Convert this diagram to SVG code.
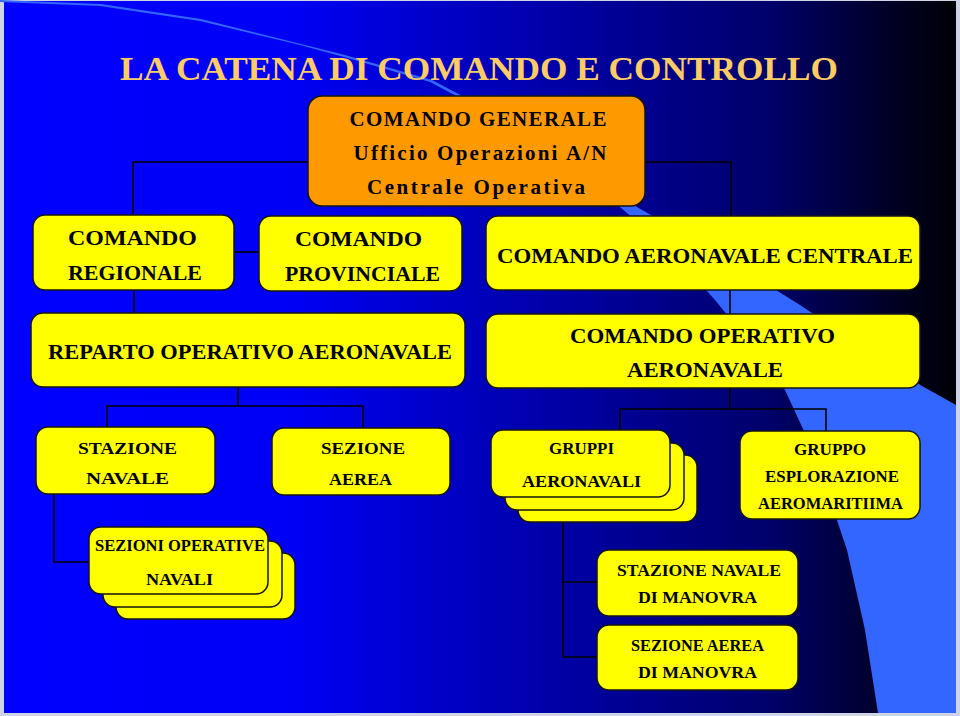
<svg xmlns="http://www.w3.org/2000/svg" width="960" height="716" viewBox="0 0 960 716">
<defs>
<linearGradient id="bg" x1="0" y1="0" x2="1" y2="0">
<stop offset="0" stop-color="#0000ff"/>
<stop offset="0.3" stop-color="#0000f6"/>
<stop offset="0.5" stop-color="#0000bc"/>
<stop offset="0.8" stop-color="#00006c"/>
<stop offset="0.93" stop-color="#000026"/>
<stop offset="1" stop-color="#000006"/>
</linearGradient>
<style>
.box{fill:#ffff00;stroke:#141414;stroke-width:1.5}
.org{fill:#ff9900;stroke:#141414;stroke-width:1.5}
.t{font-family:"Liberation Serif","Times New Roman",serif;font-weight:bold;fill:#000;text-anchor:middle}
.t22{font-size:22px}
.t21{font-size:21px}
.t17{font-size:17px}
.title{font-family:"Liberation Serif","Times New Roman",serif;font-weight:bold;font-size:34px;fill:#ffcc66;text-anchor:middle}
.con{fill:none;stroke:#000;stroke-width:1.6}
</style>
</defs>
<rect x="0" y="0" width="960" height="716" fill="#cfd3e6"/>
<rect x="4" y="1" width="952" height="712" fill="url(#bg)"/>
<polygon fill="#3366ff" points="0,2 100,6 200,21 300,45 344,57 430,82 530,135 580,168 620,207 670,250 715,300 750,343 785,390 815,455 847,550 865,630 878,713 956,713 956,405 922,386 860,345 800,305 720,255 637,207 590,172 560,150 532,133 432,80 345,55 201,19 101,4 0,0"/>
<text class="title" x="479" y="80" textLength="718" lengthAdjust="spacingAndGlyphs">LA CATENA DI COMANDO E CONTROLLO</text>
<g id="connectors">
<path class="con" d="M308 162 H133 V215"/>
<path class="con" d="M645 162 H731 V216"/>
<path class="con" d="M234 252 H259"/>
<path class="con" d="M134 290 V313"/>
<path class="con" d="M730 290 V314"/>
<path class="con" d="M238 387 V406"/>
<path class="con" d="M107 428 V406 H363 V428"/>
<path class="con" d="M730 388 V409"/>
<path class="con" d="M620 430 V409 H826 V431"/>
<path class="con" d="M54 494 V562 H89"/>
<path class="con" d="M563 522 V657 H597"/>
<path class="con" d="M563 582 H597"/>
</g>
<g id="comando-generale">
<rect class="org" x="308" y="96" width="337" height="110" rx="14"/>
<text class="t t21" x="478" y="126" textLength="257" lengthAdjust="spacing">COMANDO GENERALE</text>
<text class="t t21" x="480" y="160" textLength="253" lengthAdjust="spacing">Ufficio Operazioni A/N</text>
<text class="t t21" x="476" y="194" textLength="218" lengthAdjust="spacing">Centrale Operativa</text>
</g>
<g id="comando-regionale">
<rect class="box" x="33" y="215" width="201" height="75" rx="12"/>
<text class="t t22" x="132.5" y="245" textLength="129" lengthAdjust="spacingAndGlyphs">COMANDO</text>
<text class="t t22" x="135" y="280" textLength="134" lengthAdjust="spacingAndGlyphs">REGIONALE</text>
</g>
<g id="comando-provinciale">
<rect class="box" x="259" y="216" width="203" height="75" rx="12"/>
<text class="t t22" x="358.5" y="246" textLength="127" lengthAdjust="spacingAndGlyphs">COMANDO</text>
<text class="t t22" x="362.5" y="281" textLength="155" lengthAdjust="spacingAndGlyphs">PROVINCIALE</text>
</g>
<g id="comando-aeronavale-centrale">
<rect class="box" x="486" y="216" width="434" height="74" rx="12"/>
<text class="t t22" x="705" y="263" textLength="416" lengthAdjust="spacingAndGlyphs">COMANDO AERONAVALE CENTRALE</text>
</g>
<g id="reparto-operativo">
<rect class="box" x="31" y="313" width="434" height="74" rx="12"/>
<text class="t t22" x="250" y="359" textLength="404" lengthAdjust="spacingAndGlyphs">REPARTO OPERATIVO AERONAVALE</text>
</g>
<g id="comando-operativo">
<rect class="box" x="486" y="314" width="434" height="74" rx="12"/>
<text class="t t22" x="702.5" y="343" textLength="265" lengthAdjust="spacingAndGlyphs">COMANDO OPERATIVO</text>
<text class="t t22" x="705" y="377" textLength="156" lengthAdjust="spacingAndGlyphs">AERONAVALE</text>
</g>
<g id="stazione-navale">
<rect class="box" x="36" y="427" width="179" height="67" rx="12"/>
<text class="t t17" x="127.5" y="454" textLength="99" lengthAdjust="spacingAndGlyphs">STAZIONE</text>
<text class="t t17" x="127.5" y="484" textLength="83" lengthAdjust="spacingAndGlyphs">NAVALE</text>
</g>
<g id="sezione-aerea">
<rect class="box" x="272" y="428" width="178" height="67" rx="12"/>
<text class="t t17" x="363" y="454" textLength="84" lengthAdjust="spacingAndGlyphs">SEZIONE</text>
<text class="t t17" x="360.5" y="485" textLength="63" lengthAdjust="spacingAndGlyphs">AEREA</text>
</g>
<g id="gruppi-aeronavali">
<rect class="box" x="518" y="455" width="179" height="67" rx="12"/>
<rect class="box" x="505" y="443" width="179" height="67" rx="12"/>
<rect class="box" x="491" y="430" width="179" height="67" rx="12"/>
<text class="t t17" x="581.5" y="454" textLength="65" lengthAdjust="spacingAndGlyphs">GRUPPI</text>
<text class="t t17" x="581.5" y="487" textLength="119" lengthAdjust="spacingAndGlyphs">AERONAVALI</text>
</g>
<g id="gruppo-esplorazione">
<rect class="box" x="740" y="431" width="180" height="88" rx="12"/>
<text class="t t17" x="830" y="455" textLength="72" lengthAdjust="spacingAndGlyphs">GRUPPO</text>
<text class="t t17" x="832" y="482" textLength="134" lengthAdjust="spacingAndGlyphs">ESPLORAZIONE</text>
<text class="t t17" x="830.5" y="509" textLength="145" lengthAdjust="spacingAndGlyphs">AEROMARITIIMA</text>
</g>
<g id="sezioni-operative-navali">
<rect class="box" x="116" y="553" width="179" height="66" rx="12"/>
<rect class="box" x="103" y="541" width="179" height="66" rx="12"/>
<rect class="box" x="89" y="527" width="179" height="67" rx="12"/>
<text class="t t17" x="180" y="551" textLength="170" lengthAdjust="spacingAndGlyphs">SEZIONI OPERATIVE</text>
<text class="t t17" x="179.5" y="585" textLength="67" lengthAdjust="spacingAndGlyphs">NAVALI</text>
</g>
<g id="stazione-navale-manovra">
<rect class="box" x="597" y="550" width="201" height="66" rx="12"/>
<text class="t t17" x="699" y="576" textLength="164" lengthAdjust="spacingAndGlyphs">STAZIONE NAVALE</text>
<text class="t t17" x="697.5" y="603" textLength="119" lengthAdjust="spacingAndGlyphs">DI MANOVRA</text>
</g>
<g id="sezione-aerea-manovra">
<rect class="box" x="597" y="625" width="201" height="65" rx="12"/>
<text class="t t17" x="697.5" y="651" textLength="133" lengthAdjust="spacingAndGlyphs">SEZIONE AEREA</text>
<text class="t t17" x="697.5" y="678" textLength="119" lengthAdjust="spacingAndGlyphs">DI MANOVRA</text>
</g>
</svg>
